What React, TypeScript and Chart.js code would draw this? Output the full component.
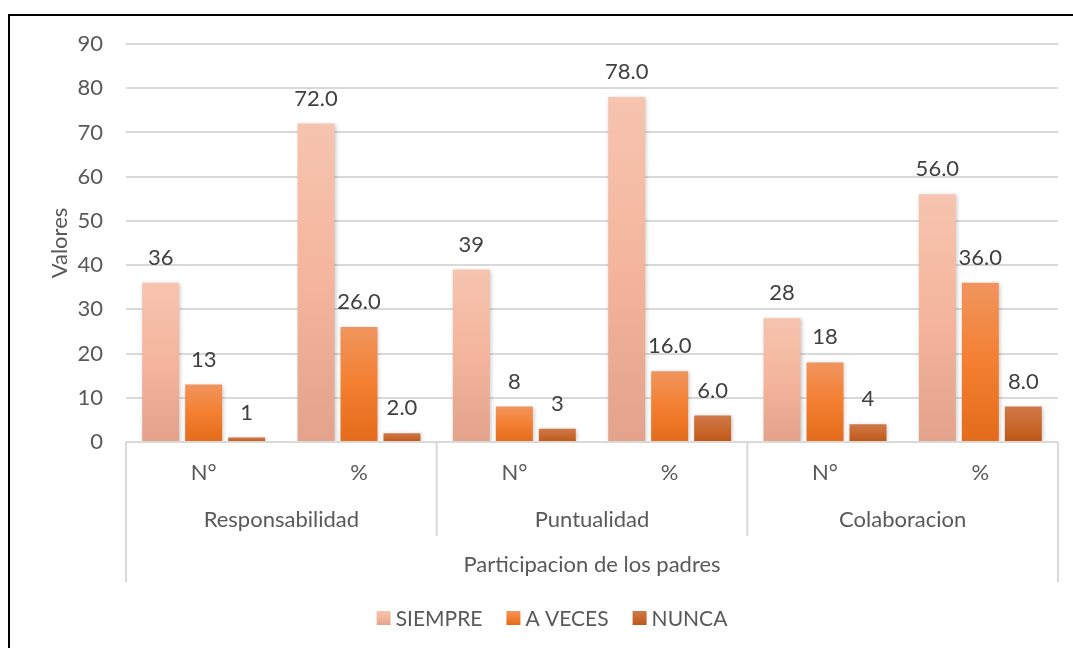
import React, { useEffect, useRef } from "react";
import { Chart, registerables } from "chart.js";

Chart.register(...registerables);

const subCategories = ["N°", "%", "N°", "%", "N°", "%"];
const groupLabels = ["Responsabilidad", "Puntualidad", "Colaboracion"];
const axisTitleX = "Participacion de los padres";
const axisTitleY = "Valores";
const valueDecimals = [0, 1, 0, 1, 0, 1];

const seriesNames = ["SIEMPRE", "A VECES", "NUNCA"];
const siempre = [36, 72, 39, 78, 28, 56];
const aVeces = [13, 26, 8, 16, 18, 36];
const nunca = [1, 2, 3, 6, 4, 8];

const gradientStops: string[][] = [
  ["#F6C4AF", "#F4B59C", "#E2A28B"],
  ["#F0955E", "#F47F30", "#E36B1B"],
  ["#D07849", "#C9692F", "#BE5717"],
];
const solidColors = ["#F4B59C", "#F47F30", "#C9692F"];

const FONT = "Lato, 'Open Sans', sans-serif";
const FS = 22;
const LEGEND_FS = 21;
const TEXT = "#595959";
const LABEL = "#404040";
const LINE = "#D9D9D9";

function makeGradient(ctx: CanvasRenderingContext2D, top: number, bottom: number, s: number) {
  const g = ctx.createLinearGradient(0, top, 0, bottom);
  const st = gradientStops[s];
  g.addColorStop(0, st[0]);
  g.addColorStop(0.5, st[1]);
  g.addColorStop(1, st[2]);
  return g;
}

const decorPlugin = {
  id: "decor",
  beforeDraw(chart: any) {
    const ctx = chart.ctx as CanvasRenderingContext2D;
    ctx.save();
    ctx.fillStyle = "#FFFFFF";
    ctx.fillRect(0, 0, chart.width, chart.height);
    ctx.strokeStyle = "#000000";
    ctx.lineWidth = 2;
    ctx.strokeRect(9, 15, 1400, 1000);
    ctx.restore();
  },
  beforeDatasetsDraw(chart: any) {
    const ctx = chart.ctx as CanvasRenderingContext2D;
    ctx.save();
    ctx.shadowColor = "rgba(0,0,0,0.22)";
    ctx.shadowBlur = 4;
    ctx.shadowOffsetX = 1;
    ctx.shadowOffsetY = 1;
  },
  afterDatasetsDraw(chart: any) {
    const ctx = chart.ctx as CanvasRenderingContext2D;
    ctx.restore();
    ctx.save();
    ctx.font = `${FS}px ${FONT}`;
    ctx.fillStyle = LABEL;
    ctx.textAlign = "center";
    ctx.textBaseline = "middle";
    chart.data.datasets.forEach((ds: any, di: number) => {
      const meta = chart.getDatasetMeta(di);
      meta.data.forEach((bar: any, i: number) => {
        const v = ds.data[i] as number;
        ctx.fillText(v.toFixed(valueDecimals[i]), bar.x, bar.y - 25);
      });
    });
    ctx.restore();
  },
  afterDraw(chart: any) {
    const ctx = chart.ctx as CanvasRenderingContext2D;
    const x = chart.scales.x;
    const area = chart.chartArea;
    const base = area.bottom;
    const n = subCategories.length;
    const step = x.getPixelForValue(1) - x.getPixelForValue(0);
    ctx.save();
    ctx.strokeStyle = LINE;
    ctx.lineWidth = 2;
    ctx.beginPath();
    ctx.moveTo(area.left, base);
    ctx.lineTo(area.right, base);
    ctx.stroke();
    const perGroup = n / groupLabels.length;
    for (let g = 0; g <= groupLabels.length; g++) {
      const px = x.getPixelForValue(g * perGroup) - step / 2;
      const outer = g === 0 || g === groupLabels.length;
      ctx.beginPath();
      ctx.moveTo(px, base);
      ctx.lineTo(px, outer ? base + 140 : base + 94);
      ctx.stroke();
    }
    ctx.fillStyle = TEXT;
    ctx.font = `${FS}px ${FONT}`;
    ctx.textAlign = "center";
    ctx.textBaseline = "middle";
    subCategories.forEach((s, i) => {
      ctx.fillText(s, x.getPixelForValue(i), base + 31);
    });
    groupLabels.forEach((g, gi) => {
      const c = (x.getPixelForValue(gi * perGroup) + x.getPixelForValue(gi * perGroup + perGroup - 1)) / 2;
      ctx.fillText(g, c, base + 78);
    });
    ctx.fillText(axisTitleX, (area.left + area.right) / 2, base + 123);

    ctx.font = `${LEGEND_FS}px ${FONT}`;
    const box = 14;
    const gap = 5;
    const spacing = 24;
    const widths = seriesNames.map((s) => ctx.measureText(s).width);
    const total = widths.reduce((a, w) => a + box + gap + w, 0) + spacing * (seriesNames.length - 1);
    let lx = 552 - total / 2;
    const ly = 618;
    ctx.textAlign = "left";
    seriesNames.forEach((s, si) => {
      ctx.fillStyle = makeGradient(ctx, ly - box / 2, ly + box / 2, si);
      ctx.fillRect(lx, ly - box / 2, box, box);
      lx += box + gap;
      ctx.fillStyle = TEXT;
      ctx.fillText(s, lx, ly + 1);
      lx += widths[si] + spacing;
    });
    ctx.restore();
  },
};

export default function App() {
  const canvasRef = useRef<HTMLCanvasElement | null>(null);

  useEffect(() => {
    if (!canvasRef.current) return;
    const seriesData = [siempre, aVeces, nunca];
    const chart = new Chart(canvasRef.current, {
      type: "bar",
      data: {
        labels: subCategories,
        datasets: seriesData.map((d, si) => ({
          label: seriesNames[si],
          data: d,
          backgroundColor: (c: any) => {
            const ch = c.chart;
            if (!ch.chartArea || c.type !== "data") return solidColors[si];
            const y = ch.scales.y;
            const top = y.getPixelForValue(c.raw);
            const bot = y.getPixelForValue(0);
            if (!isFinite(top) || !isFinite(bot) || bot - top < 1) return solidColors[si];
            return makeGradient(ch.ctx, top, bot, si);
          },
          borderWidth: 0,
          categoryPercentage: 0.83,
          barPercentage: 0.86,
        })),
      },
      options: {
        responsive: false,
        animation: false,
        devicePixelRatio: 1,
        layout: { padding: { left: 0, right: 15, top: 44, bottom: 206 } },
        plugins: {
          legend: { display: false },
          tooltip: { enabled: false },
        },
        scales: {
          x: { display: false },
          y: {
            min: 0,
            max: 90,
            ticks: {
              stepSize: 10,
              color: TEXT,
              font: { family: FONT, size: FS },
              padding: 23,
            },
            grid: { color: LINE, lineWidth: 2, drawTicks: false },
            border: { display: false },
            title: {
              display: true,
              text: axisTitleY,
              color: TEXT,
              font: { family: FONT, size: FS },
              padding: { top: 47, bottom: 0 },
            },
            afterFit: (scale: any) => {
              scale.width = 126;
            },
          },
        },
      },
      plugins: [decorPlugin],
    } as any);
    return () => chart.destroy();
  }, []);

  return (
    <div style={{ position: "absolute", left: 0, top: 0, width: 1073, height: 648 }}>
      <canvas ref={canvasRef} width={1073} height={648} style={{ display: "block" }} />
    </div>
  );
}
